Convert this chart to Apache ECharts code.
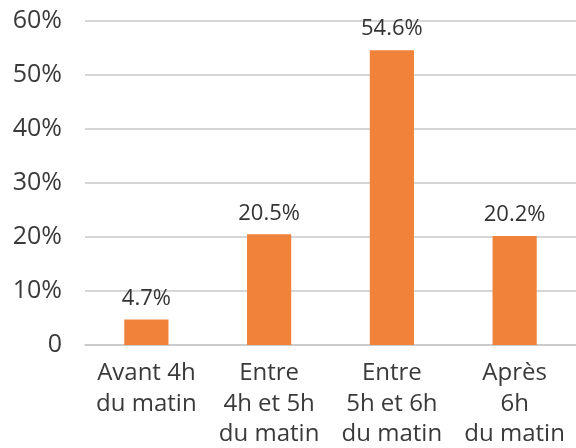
<!DOCTYPE html>
<html>
<head>
<meta charset="utf-8">
<script src="https://cdn.jsdelivr.net/npm/echarts@6/dist/echarts.min.js"></script>
<style>
  html, body { margin: 0; padding: 0; background: #fff; }
  #main { width: 576px; height: 448px; }
</style>
</head>
<body>
<div id="main"></div>
<script>
// données
const categories = [
  'Avant 4h\ndu matin',
  'Entre\n4h et 5h\ndu matin',
  'Entre\n5h et 6h\ndu matin',
  'Après\n6h\ndu matin'
];
const values = [4.7, 20.5, 54.6, 20.2];
const yTicks = [0, 10, 20, 30, 40, 50, 60];

const myChart = echarts.init(document.getElementById('main'));

const option = {
  animation: false,
  textStyle: { fontFamily: 'Open Sans' },
  grid: {
    left: 85,
    right: 0,
    top: 21,
    bottom: 103,
    outerBoundsMode: 'none'
  },
  xAxis: {
    type: 'category',
    data: categories,
    axisLine: { show: true, lineStyle: { color: '#c8c8c8', width: 1.5 } },
    axisTick: { show: false },
    axisLabel: {
      interval: 0,
      margin: 13,
      fontSize: 24,
      lineHeight: 30.5,
      color: '#3a3a3a'
    }
  },
  yAxis: {
    type: 'value',
    min: yTicks[0],
    max: yTicks[yTicks.length - 1],
    interval: 10,
    axisLine: { show: false },
    axisTick: { show: false },
    splitLine: { lineStyle: { color: '#c8c8c8', width: 1.5 } },
    axisLabel: {
      margin: 23,
      fontSize: 25,
      color: '#3a3a3a',
      formatter: v => (v === 0 ? '0' : v + '%')
    }
  },
  series: [
    {
      type: 'bar',
      data: values,
      barWidth: '36%',
      itemStyle: { color: '#F0823A' },
      label: {
        show: true,
        position: 'top',
        distance: 10,
        fontSize: 22,
        color: '#333',
        formatter: p => p.value.toFixed(1) + '%'
      }
    }
  ]
};

myChart.setOption(option);
</script>
</body>
</html>
